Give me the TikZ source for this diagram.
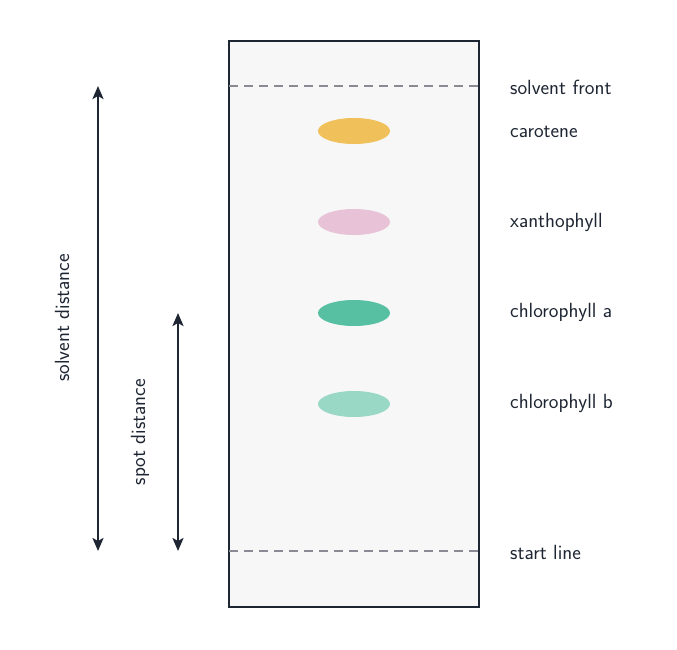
\documentclass[tikz,border=0pt]{standalone}
\usetikzlibrary{shapes.geometric,arrows.meta}
\definecolor{ink}{HTML}{1E2633}
\definecolor{dgray}{HTML}{8A8A94}
\definecolor{paper}{HTML}{F7F7F7}
\definecolor{cyel}{HTML}{F0C05A}
\definecolor{cpink}{HTML}{E8C3D8}
\definecolor{cgreen}{HTML}{58C0A2}
\definecolor{clgreen}{HTML}{9AD8C6}
\begin{document}
\begin{tikzpicture}[x=1pt,y=-1pt,
  lbl/.style={anchor=west,font=\sffamily\fontsize{20.5}{24}\selectfont,text=ink,inner sep=0pt},
  spot/.style={ellipse,minimum width=72pt,minimum height=26pt,inner sep=0pt,draw=none},
  dsh/.style={draw=dgray,line width=2pt,dash pattern=on 9pt off 6pt},
  arr/.style={ink,line width=2.4pt,{Stealth[length=13pt,width=11pt,inset=3pt]}-{Stealth[length=13pt,width=11pt,inset=3pt]}}]
\useasboundingbox (0,0) rectangle (677,650);
\node[draw=ink,line width=2.4pt,fill=paper,minimum width=250pt,minimum height=566pt,inner sep=0pt] (plate) at (354,324) {};
\coordinate (fl) at (229,86); \coordinate (fr) at (479,86);
\coordinate (sl) at (229,551); \coordinate (sr) at (479,551);
\draw[dsh] (fl) -- (fr);
\draw[dsh] (sl) -- (sr);
\node[spot,fill=cyel] (car) at (354,131) {};
\node[spot,fill=cpink] (xan) at (354,222) {};
\node[spot,fill=cgreen] (cha) at (354,313) {};
\node[spot,fill=clgreen] (chb) at (354,404) {};
\node[lbl] (l1) at (510,87) {solvent front};
\node[lbl] (l2) at (510,132) {carotene};
\node[lbl] (l3) at (510,222) {xanthophyll};
\node[lbl] (l4) at (510,312) {chlorophyll a};
\node[lbl] (l5) at (510,403) {chlorophyll b};
\node[lbl] (l6) at (510,552) {start line};
\coordinate (a1) at (98,86); \coordinate (a2) at (98,551);
\coordinate (b1) at (178,313); \coordinate (b2) at (178,551);
\draw[arr] (a1) -- (a2);
\draw[arr] (b1) -- (b2);
\node[lbl,anchor=center,rotate=90] (sd) at (62,318) {solvent distance};
\node[lbl,anchor=center,rotate=90] (pd) at (140,432) {spot distance};
\end{tikzpicture}
\end{document}
